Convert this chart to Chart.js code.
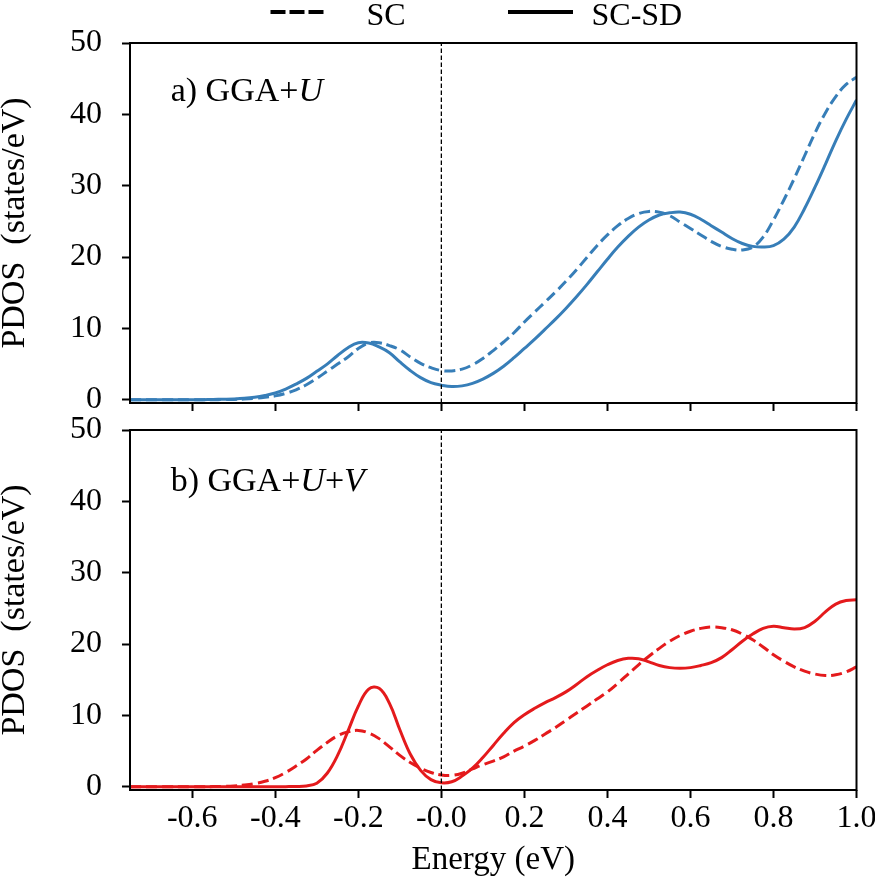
<!DOCTYPE html>
<html>
<head>
<meta charset="utf-8">
<script src="https://cdn.jsdelivr.net/npm/chart.js@4.4.1/dist/chart.umd.min.js"></script>
<style>
  html, body { margin: 0; padding: 0; background: #fff; overflow: hidden; }
  #wrap { position: relative; width: 875px; height: 880px; overflow: hidden; background: #fff; }
  canvas { position: absolute; left: 0; }
  #c1 { top: 0; }
  #c2 { top: 400px; }
</style>
</head>
<body>
<div id="wrap">
  <canvas id="c1" width="900" height="420"></canvas>
  <canvas id="c2" width="900" height="480"></canvas>
</div>
<script>
// ---------------- data ----------------
const energy = [
  -0.75, -0.725, -0.7, -0.675, -0.65, -0.625, -0.6, -0.575, -0.55, -0.525,
  -0.5, -0.475, -0.45, -0.425, -0.4, -0.375, -0.35, -0.325, -0.3, -0.275,
  -0.25, -0.225, -0.2, -0.175, -0.15, -0.125, -0.1, -0.075, -0.05, -0.025,
  0, 0.025, 0.05, 0.075, 0.1, 0.125, 0.15, 0.175, 0.2, 0.225,
  0.25, 0.275, 0.3, 0.325, 0.35, 0.375, 0.4, 0.425, 0.45, 0.475,
  0.5, 0.525, 0.55, 0.575, 0.6, 0.625, 0.65, 0.675, 0.7, 0.725,
  0.75, 0.775, 0.8, 0.825, 0.85, 0.875, 0.9, 0.925, 0.95, 0.975,
  1.0
];

// a) GGA+U, SC (dashed)
const scU = [
  0, 0, 0, 0, 0, 0, 0, 0, 0.01, 0.03,
  0.05, 0.1, 0.2, 0.35, 0.55, 0.9, 1.4, 2.1, 3.0, 4.0,
  5.0, 6.0, 7.2, 7.95, 8.0, 7.6, 7.0, 6.0, 5.1, 4.5,
  4.1, 4.05, 4.3, 4.9, 5.8, 6.9, 8.1, 9.4, 10.9, 12.3,
  13.7, 15.1, 16.6, 18.2, 19.9, 21.6, 23.1, 24.4, 25.4, 26.1,
  26.4, 26.3, 25.8, 24.9, 24.0, 23.1, 22.2, 21.5, 21.1, 21.0,
  21.4, 22.8, 25.2, 28.0, 31.0, 34.2, 37.4, 40.2, 42.5, 44.2,
  45.2
];

// a) GGA+U, SC-SD (solid)
const scsdU = [
  0, 0, 0, 0, 0, 0, 0, 0.02, 0.05, 0.08,
  0.12, 0.2, 0.35, 0.6, 0.95, 1.5, 2.2, 3.0, 4.0, 5.0,
  6.2, 7.3, 8.0, 7.95, 7.4, 6.6, 5.3, 4.1, 3.1, 2.4,
  2.05, 1.85, 1.95, 2.3, 2.9, 3.7, 4.7, 5.9, 7.2, 8.5,
  9.9, 11.3, 12.8, 14.4, 16.1, 17.9, 19.7, 21.4, 22.9, 24.2,
  25.2, 25.9, 26.2, 26.3, 26.0, 25.3, 24.4, 23.5, 22.6, 21.9,
  21.5, 21.4, 21.6, 22.5, 24.2, 26.8, 29.8, 33.0, 36.3, 39.3,
  42.0
];

// b) GGA+U+V, SC (dashed)
const scUV = [
  0, 0, 0, 0, 0, 0, 0, 0.01, 0.03, 0.06,
  0.12, 0.24, 0.44, 0.77, 1.27, 2.0, 2.9, 3.9, 5.1, 6.2,
  7.15, 7.7, 7.9, 7.55, 6.75, 5.6, 4.4, 3.4, 2.6, 2.0,
  1.65, 1.6, 1.9, 2.5, 3.1, 3.6, 4.2, 5.0, 5.7, 6.5,
  7.4, 8.3, 9.3, 10.3, 11.3, 12.3, 13.3, 14.5, 15.8, 17.1,
  18.3, 19.4, 20.4, 21.2, 21.8, 22.2, 22.4, 22.3, 22.0, 21.4,
  20.6, 19.6, 18.5, 17.6, 16.8, 16.2, 15.8, 15.6, 15.7, 16.1,
  16.8
];

// b) GGA+U+V, SC-SD (solid)
const scsdUV = [
  0, 0, 0, 0, 0, 0, 0, 0, 0, 0,
  0, 0, 0, 0, 0.01, 0.02, 0.04, 0.12, 0.5, 1.9,
  4.4, 7.8, 11.3, 13.7, 13.8, 11.7, 8.0, 4.6, 2.3, 1.0,
  0.55, 0.7, 1.5, 2.6, 4.1, 5.8, 7.5, 9.0, 10.1, 11.0,
  11.8, 12.5, 13.3, 14.3, 15.4, 16.3, 17.1, 17.7, 18.0, 17.95,
  17.5, 17.0, 16.7, 16.6, 16.7, 17.0, 17.4, 18.1, 19.2, 20.4,
  21.4, 22.2, 22.5, 22.3, 22.1, 22.3, 23.2, 24.5, 25.6, 26.1,
  26.2
];

const yTicks = [0, 10, 20, 30, 40, 50];
const xTicks = [-0.6, -0.4, -0.2, 0, 0.2, 0.4, 0.6, 0.8, 1.0];
const xTickLabels = ['-0.6', '-0.4', '-0.2', '-0.0', '0.2', '0.4', '0.6', '0.8', '1.0'];
const fermiE = [0, 0];
const fermiPDOS = [-0.45, 50];
const legendLabels = ['SC', 'SC-SD'];

// ---------------- styling ----------------
const BLUE = '#377eb8';
const RED = '#e41a1c';
const FONT = '"Liberation Serif", "Times New Roman", Times, serif';

function pts(xs, ys) { return xs.map((x, i) => ({ x: x, y: ys[i] })); }

const framePlugin = {
  id: 'frame',
  afterDraw(chart) {
    const { ctx, chartArea: a } = chart;
    ctx.save();
    ctx.strokeStyle = '#000';
    ctx.lineWidth = 2;
    ctx.setLineDash([]);
    ctx.strokeRect(a.left, a.top, a.right - a.left, a.bottom - a.top);
    ctx.restore();
  }
};

const panelLabelPlugin = {
  id: 'panelLabel',
  afterDatasetsDraw(chart, args, o) {
    if (!o || !o.parts) return;
    const ctx = chart.ctx;
    let cx = chart.scales.x.getPixelForValue(o.x);
    const cy = chart.scales.y.getPixelForValue(o.y);
    ctx.save();
    ctx.fillStyle = '#000';
    ctx.textAlign = 'left';
    ctx.textBaseline = 'alphabetic';
    for (let i = 0; i < o.parts.length; i++) {
      const p = o.parts[i];
      ctx.font = (p.italic ? 'italic ' : '') + o.size + 'px ' + FONT;
      ctx.fillText(p.text, cx, cy);
      cx += ctx.measureText(p.text).width;
    }
    ctx.restore();
  }
};

const dashLegendPlugin = {
  id: 'dashLegend',
  afterDraw(chart, args, o) {
    if (!o || !o.items) return;
    const ctx = chart.ctx;
    ctx.save();
    for (let i = 0; i < o.items.length; i++) {
      const it = o.items[i];
      ctx.beginPath();
      ctx.strokeStyle = '#000';
      ctx.lineWidth = 4;
      ctx.lineCap = 'butt';
      ctx.setLineDash(it.dash);
      ctx.moveTo(it.x0, o.lineY);
      ctx.lineTo(it.x1, o.lineY);
      ctx.stroke();
      ctx.setLineDash([]);
      ctx.fillStyle = '#000';
      ctx.font = o.size + 'px ' + FONT;
      ctx.textAlign = 'left';
      ctx.textBaseline = 'alphabetic';
      ctx.fillText(it.label, it.tx, o.textY);
    }
    ctx.restore();
  }
};

function gridOpts() {
  return { drawOnChartArea: false, drawTicks: true, tickLength: 8, tickWidth: 2, tickColor: '#000' };
}

function makePanel(canvasId, color, scVals, scsdVals, cfg) {
  return new Chart(document.getElementById(canvasId), {
    type: 'line',
    data: {
      datasets: [
        {
          label: 'E_F', data: pts(fermiE, fermiPDOS), borderColor: '#000', borderWidth: 1.3,
          borderDash: [4.5, 2.5], pointRadius: 0, tension: 0, order: 0
        },
        {
          label: legendLabels[0], data: pts(energy, scVals), borderColor: color, borderWidth: 3,
          borderDash: [11, 5], pointRadius: 0, tension: 0.4, order: 1
        },
        {
          label: legendLabels[1], data: pts(energy, scsdVals), borderColor: color, borderWidth: 3,
          pointRadius: 0, tension: 0.4, order: 2
        }
      ]
    },
    options: {
      responsive: false,
      animation: false,
      events: [],
      layout: { padding: cfg.padding, autoPadding: false },
      plugins: {
        legend: { display: false },
        tooltip: { enabled: false },
        panelLabel: cfg.panelLabel,
        dashLegend: cfg.dashLegend || {}
      },
      scales: {
        x: {
          type: 'linear', min: -0.75, max: 1.0,
          afterBuildTicks: (s) => { s.ticks = xTicks.map(v => ({ value: v })); },
          afterFit: (s) => {
            s.height = cfg.xAxisHeight;
            s.paddingLeft = 0; s.paddingRight = 0; s.paddingTop = 0; s.paddingBottom = 0;
          },
          grid: gridOpts(),
          border: { display: false },
          ticks: {
            display: cfg.showXLabels, autoSkip: false, maxRotation: 0, minRotation: 0, padding: 1,
            color: '#000', font: { family: FONT, size: 32 },
            callback: (v, i) => xTickLabels[i]
          },
          title: {
            display: cfg.showXLabels, text: 'Energy (eV)', color: '#000',
            font: { family: FONT, size: 33 }, padding: { top: 0, bottom: 0 }
          }
        },
        y: {
          type: 'linear', min: -0.45, max: 50,
          afterBuildTicks: (s) => { s.ticks = yTicks.map(v => ({ value: v })); },
          afterFit: (s) => {
            s.width = 130;
            s.paddingLeft = 0; s.paddingRight = 0; s.paddingTop = 0; s.paddingBottom = 0;
          },
          grid: gridOpts(),
          border: { display: false },
          ticks: { padding: 20, color: '#000', font: { family: FONT, size: 32 } },
          title: {
            display: true, text: 'PDOS  (states/eV)', color: '#000',
            font: { family: FONT, size: 34, lineHeight: 0.88 }, padding: { top: 0, bottom: 0 }
          }
        }
      }
    },
    plugins: [framePlugin, panelLabelPlugin, dashLegendPlugin]
  });
}

makePanel('c1', BLUE, scU, scsdU, {
  padding: { top: 43, right: 43.5, bottom: 0, left: 0 },
  xAxisHeight: 17,
  showXLabels: false,
  panelLabel: { x: -0.652, y: 41.9, size: 34, parts: [{ text: 'a) GGA+', italic: false }, { text: 'U', italic: true }] },
  dashLegend: {
    size: 32, lineY: 12, textY: 25,
    items: [
      { label: legendLabels[0], dash: [15, 4], x0: 270.5, x1: 325.5, tx: 366.5 },
      { label: legendLabels[1], dash: [], x0: 508, x1: 573, tx: 591.5 }
    ]
  }
});

makePanel('c2', RED, scUV, scsdUV, {
  padding: { top: 30, right: 43.5, bottom: 0, left: 0 },
  xAxisHeight: 90,
  showXLabels: true,
  panelLabel: {
    x: -0.652, y: 41.45, size: 34,
    parts: [
      { text: 'b) GGA+', italic: false }, { text: 'U', italic: true },
      { text: '+', italic: false }, { text: 'V', italic: true }
    ]
  }
});
</script>
</body>
</html>
